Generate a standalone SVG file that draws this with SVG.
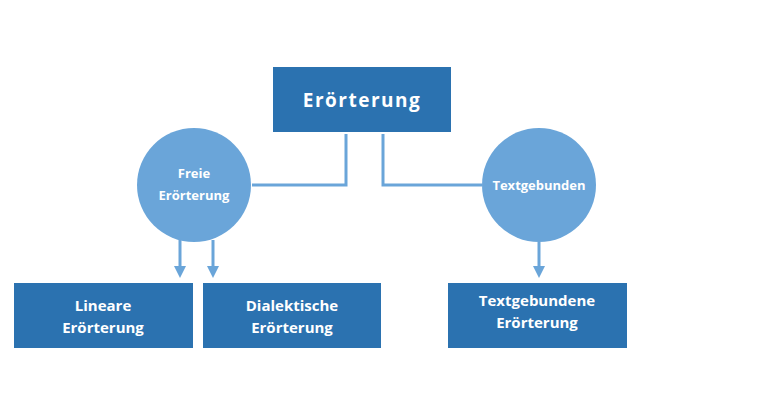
<svg xmlns="http://www.w3.org/2000/svg" width="770" height="400" viewBox="0 0 770 400">
<style>
.box{fill:#2b72b0}
.circ{fill:#6aa5d9}
.t{font-family:"Open Sans","Liberation Sans",sans-serif;font-weight:bold;fill:#fff;text-anchor:middle}
.c{stroke:#6aa5d9;stroke-width:3;fill:none}
</style>
<defs><marker id="a" viewBox="0 0 10 10" refX="5" refY="5" markerWidth="4" markerHeight="4" orient="auto"><path d="M0,0L10,5L0,10z" fill="#6aa5d9"/></marker></defs>
<rect width="770" height="400" fill="#fff"/>
<g id="connectors">
<path class="c" d="M252,185H346V134"/>
<path class="c" d="M383,134V185H482"/>
<path class="c" d="M180,240V272" marker-end="url(#a)"/>
<path class="c" d="M213,240V272" marker-end="url(#a)"/>
<path class="c" d="M539,242V272" marker-end="url(#a)"/>
</g>
<g id="root"><rect class="box" x="273" y="67" width="178" height="65"/><text class="t" x="362" y="107" font-size="19" letter-spacing="1.5">Erörterung</text></g>
<g id="freie"><circle class="circ" cx="194" cy="185" r="57"/><text class="t" x="194" y="178" font-size="13">Freie</text><text class="t" x="194" y="200" font-size="13">Erörterung</text></g>
<g id="textgeb"><circle class="circ" cx="539" cy="185" r="57"/><text class="t" x="539" y="190" font-size="13">Textgebunden</text></g>
<g id="lineare"><rect class="box" x="14" y="283" width="179" height="65"/><text class="t" x="103" y="311" font-size="15">Lineare</text><text class="t" x="103" y="333" font-size="15">Erörterung</text></g>
<g id="dialektische"><rect class="box" x="203" y="283" width="178" height="65"/><text class="t" x="292" y="311" font-size="15">Dialektische</text><text class="t" x="292" y="333" font-size="15">Erörterung</text></g>
<g id="textgebundene"><rect class="box" x="448" y="283" width="179" height="65"/><text class="t" x="537" y="306" font-size="15">Textgebundene</text><text class="t" x="537" y="328" font-size="15">Erörterung</text></g>
</svg>
